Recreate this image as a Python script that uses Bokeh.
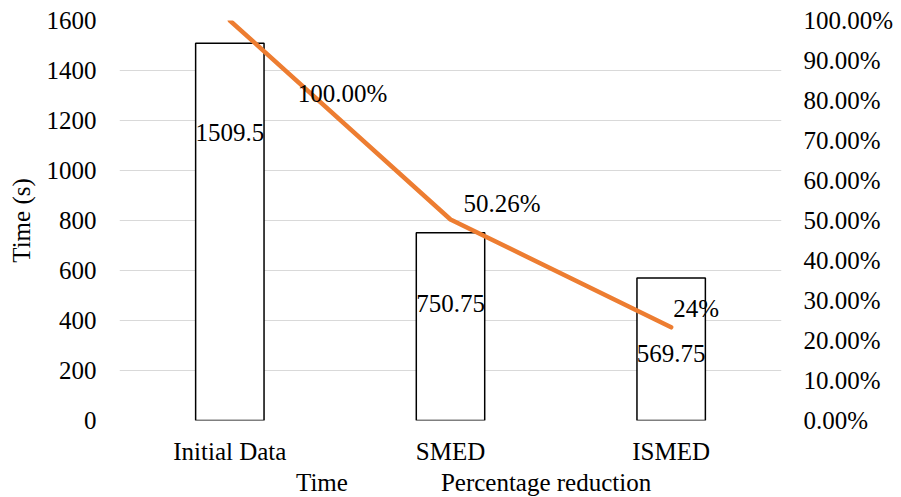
from bokeh.plotting import figure
from bokeh.layouts import column
from bokeh.models import (Range1d, LinearAxis, FixedTicker, NumeralTickFormatter,
                          ColumnDataSource, Legend, LegendItem)
from bokeh.core.properties import value
from bokeh.embed import file_html
from bokeh.resources import INLINE

# ---- data ----
categories = ["Initial Data", "SMED", "ISMED"]
times = [1509.5, 750.75, 569.75]
time_labels = ["1509.5", "750.75", "569.75"]
pct_reduction = [1.0, 0.5026, 0.233]
pct_labels = ["100.00%", "50.26%", "24%"]
left_ticks = [0, 200, 400, 600, 800, 1000, 1200, 1400, 1600]
right_ticks = [0.0, 0.1, 0.2, 0.3, 0.4, 0.5, 0.6, 0.7, 0.8, 0.9, 1.0]
legend_labels = ["Time", "Percentage reduction"]

FONT = "Liberation Serif"
FS = "25px"
ORANGE = "#ED7D31"

p = figure(x_range=categories, y_range=Range1d(0, 1600),
           frame_width=662, frame_height=400,
           output_backend="svg", toolbar_location=None,
           min_border_left=119, min_border_right=112, min_border_top=20,
           min_border_bottom=0)
p.outline_line_color = None
p.background_fill_color = "white"
p.extra_y_ranges = {"pct": Range1d(0, 1)}

# grid
p.xgrid.grid_line_color = None
p.ygrid.grid_line_color = "#d9d9d9"
p.ygrid.grid_line_width = 1.2
p.ygrid.ticker = FixedTicker(ticks=left_ticks)

# left axis
ya = p.yaxis[0]
ya.ticker = FixedTicker(ticks=left_ticks)
ya.axis_label = "Time (s)"
ya.axis_label_text_font = FONT
ya.axis_label_text_font_size = FS
ya.axis_label_text_font_style = "normal"
ya.axis_label_text_color = "black"
ya.axis_label_standoff = 9
ya.major_label_text_font = FONT
ya.major_label_text_font_size = FS
ya.major_label_text_color = "black"
ya.axis_line_color = None
ya.major_tick_line_color = None
ya.minor_tick_line_color = None
ya.major_tick_out = 0
ya.major_label_standoff = 23

# right axis
ra = LinearAxis(y_range_name="pct", ticker=FixedTicker(ticks=right_ticks),
                formatter=NumeralTickFormatter(format="0.00%"))
ra.major_label_text_font = FONT
ra.major_label_text_font_size = FS
ra.major_label_text_color = "black"
ra.axis_line_color = None
ra.major_tick_line_color = None
ra.minor_tick_line_color = None
ra.major_tick_out = 0
ra.major_label_standoff = 22
p.add_layout(ra, "right")

# x axis
xa = p.xaxis[0]
xa.major_label_text_font = FONT
xa.major_label_text_font_size = FS
xa.major_label_text_color = "black"
xa.axis_line_color = None
xa.major_tick_line_color = None
xa.minor_tick_line_color = None
xa.major_tick_out = 0
xa.major_label_standoff = 17

src = ColumnDataSource(dict(cat=categories, t=times, tl=time_labels,
                            pc=pct_reduction, pl=pct_labels,
                            tdy=[89, 71, 75], pdx=[68, 13, 2], pdy=[73, -16, -19]))

bars = p.vbar(x="cat", top="t", width=0.31, source=src, fill_color="white",
              line_color="black", line_width=1.5)
line = p.line(x="cat", y="pc", source=src, y_range_name="pct", line_color=ORANGE,
              line_width=4.5, line_cap="round", line_join="round")

p.text(x="cat", y="t", text="tl", source=src, y_offset="tdy",
       text_align="center", text_baseline="middle",
       text_font=value(FONT), text_font_size=FS, text_color="black")
p.text(x="cat", y="pc", text="pl", source=src, y_range_name="pct",
       x_offset="pdx", y_offset="pdy",
       text_align="left", text_baseline="middle",
       text_font=value(FONT), text_font_size=FS, text_color="black")

# ---- legend strip (separate small figure below the chart) ----
lg = figure(width=893, height=31, x_range=Range1d(0, 1), y_range=Range1d(0, 1),
            x_axis_type=None, y_axis_type=None, output_backend="svg",
            toolbar_location=None, min_border=0)
lg.outline_line_color = None
lg.xgrid.grid_line_color = None
lg.ygrid.grid_line_color = None
# swatch renderers with no data; only their legend swatches are drawn
sw_bar = lg.vbar(x=[], top=[], width=0.1, fill_color="white",
                 line_color="black", line_width=1.5)
sw_line = lg.line(x=[], y=[], line_color=ORANGE, line_width=4.5,
                  line_cap="round")

legend = Legend(items=[LegendItem(label=legend_labels[0], renderers=[sw_bar]),
                       LegendItem(label=legend_labels[1], renderers=[sw_line])],
                orientation="horizontal", location=(118, 1),
                label_text_font=FONT, label_text_font_size=FS,
                label_text_color="black", glyph_width=54, glyph_height=14,
                label_height=22, label_standoff=5, spacing=34, padding=0, margin=0,
                border_line_color=None, background_fill_alpha=0)
lg.add_layout(legend, "center")

layout = column(p, lg, spacing=0)
open("out.html", "w").write(file_html(layout, INLINE))
